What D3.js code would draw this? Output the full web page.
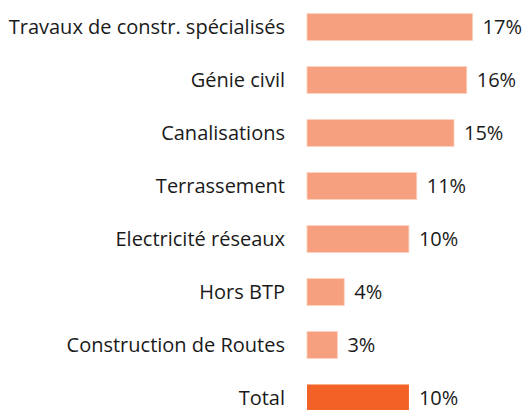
<!DOCTYPE html>
<html><head><meta charset="utf-8">
<script src="https://cdn.jsdelivr.net/npm/d3@7"></script>
<style>body{margin:0;background:#fff}svg{display:block}</style>
</head><body>
<svg id="c" width="523" height="410"></svg>
<script>
const categories = ["Travaux de constr. spécialisés","Génie civil","Canalisations","Terrassement","Electricité réseaux","Hors BTP","Construction de Routes","Total"];
const values = [16.9, 16.3, 15.0, 11.2, 10.4, 3.8, 3.1, 10.4];
const valueLabels = ["17%","16%","15%","11%","10%","4%","3%","10%"];

const svg = d3.select("#c");
const font = "'Open Sans', sans-serif";
const y = d3.scaleBand().domain(categories).range([0.5, 424.5]).paddingInner(0.49).paddingOuter(0.245);
const x = d3.scaleLinear().domain([0, 20]).range([307, 503]);

svg.selectAll("rect.bar").data(categories).join("rect")
  .attr("class","bar")
  .attr("x", x(0))
  .attr("y", d => y(d))
  .attr("width", (d,i) => x(values[i]) - x(0))
  .attr("height", y.bandwidth())
  .attr("fill", d => d === "Total" ? "#F26125" : "#F7A07F")
  .attr("stroke", d => d === "Total" ? "none" : "#FCD3C3")
  .attr("stroke-width", 0.8);

svg.selectAll("text.cat").data(categories).join("text")
  .attr("class","cat")
  .attr("x", 285)
  .attr("y", d => y(d) + y.bandwidth()/2)
  .attr("dy", "0.34em")
  .attr("text-anchor","end")
  .attr("font-family", font)
  .attr("font-size", 20)
  .attr("fill","#1a1a1a")
  .text(d => d);

svg.selectAll("text.val").data(categories).join("text")
  .attr("class","val")
  .attr("x", (d,i) => x(values[i]) + 10)
  .attr("y", d => y(d) + y.bandwidth()/2)
  .attr("dy", "0.36em")
  .attr("font-family", font)
  .attr("font-size", 20)
  .attr("fill","#1a1a1a")
  .text((d,i) => valueLabels[i]);
</script>
</body></html>
